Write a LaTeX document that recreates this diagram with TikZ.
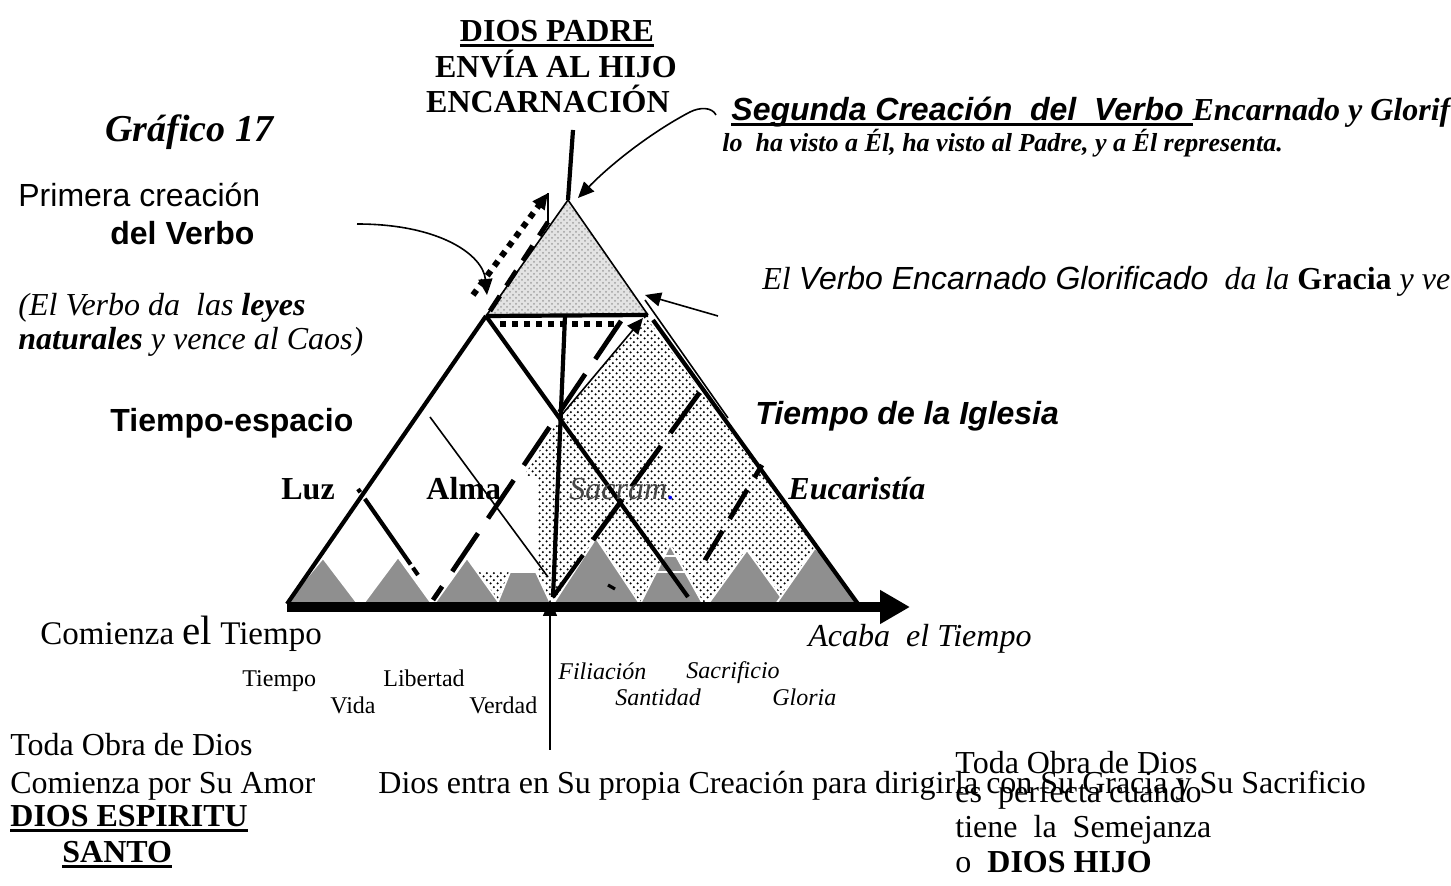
\documentclass[tikz,border=0pt]{standalone}
\usepackage{fontspec}
\setmainfont{Liberation Serif}
\newfontfamily\arialf{Liberation Sans}
\usetikzlibrary{arrows.meta,patterns}
\newcommand{\fsz}[1]{\fontsize{#1}{#1}\selectfont}
\newsavebox{\ulbox}
\newcommand{\ulx}[1]{\sbox{\ulbox}{#1}\rlap{\rule[-2.6pt]{\wd\ulbox}{1.4pt}}\usebox{\ulbox}}
\pgfdeclarepatternformonly{stip}{\pgfpointorigin}{\pgfpoint{3.6pt}{3.6pt}}{\pgfpoint{3.6pt}{3.6pt}}{%
  \pgfpathcircle{\pgfpoint{0.9pt}{0.9pt}}{0.68pt}%
  \pgfpathcircle{\pgfpoint{2.7pt}{2.7pt}}{0.68pt}%
  \pgfusepath{fill}}
\definecolor{mgray}{RGB}{143,143,143}
\definecolor{sacg}{RGB}{70,70,70}
\tikzset{
  tl/.style={line width=2.1pt},
  thinl/.style={line width=0.8pt},
  dashthick/.style={line width=2.4pt, dash pattern=on 23pt off 9pt},
  dotthick/.style={line width=3pt, dash pattern=on 3pt off 3pt},
  mount/.style={fill=mgray, draw=white, line width=0.9pt},
  tip/.style={-{Triangle[length=8pt,width=7pt]}},
  txt/.style={inner sep=0pt, anchor=base west},
  txtc/.style={inner sep=0pt, anchor=base},
}
\begin{document}
\begin{tikzpicture}[x=0.5pt,y=-0.5pt]
\useasboundingbox (0,0) rectangle (1451,886);
\fill[white] (0,0) rectangle (1451,886);
% key points
\coordinate (BL) at (287,604);
\coordinate (BR) at (858,604);
\coordinate (AP) at (568,200);
\coordinate (SL) at (486,316);
\coordinate (SR) at (648,315);
\coordinate (RS) at (653,320);
\coordinate (X) at (560,417);
\coordinate (VB) at (553,597);
\coordinate (VT) at (565,316);
\coordinate (L1e) at (688,597);
\coordinate (D1s) at (433,600);
\coordinate (D1t) at (621,321);
\coordinate (D1e) at (643,318);
% stippled region
\fill[pattern=stip, pattern color=black] (645,316) -- (BR) -- (478,604) -- (478,572) -- (538,572) -- (538,476) -- (524,476) -- (X) -- cycle;
% small top triangle
\fill[gray!22] (AP) -- (SL) -- (SR) -- cycle;
\fill[pattern=crosshatch dots, pattern color=gray!75] (AP) -- (SL) -- (SR) -- cycle;
% mountains
\begin{scope}
\clip (BL) -- (AP) -- (BR) -- cycle;
\fill[mount] (285,604) -- (323,558) -- (358,604) -- cycle;
\fill[mount] (363,604) -- (398,557) -- (432,604) -- cycle;
\fill[mount] (434,604) -- (467,558) -- (500,604) -- cycle;
\fill[mount] (497,604) -- (510,572) -- (536,572) -- (551,604) -- cycle;
\fill[mount] (553,604) -- (596,538) -- (640,604) -- cycle;
\fill[mount] (640,604) -- (670,545) -- (703,604) -- cycle;
\fill[mount] (708,604) -- (747,550) -- (786,604) -- cycle;
\fill[mount] (776,604) -- (815,548) -- (880,604) -- cycle;
\draw[white, line width=1pt] (655,556) -- (686,556);
\draw[white, line width=1pt] (648,572) -- (694,572);
\end{scope}
% big triangle
\draw[tl] (BL) -- (SL);
\draw[tl] (RS) -- (BR);
\draw[thinl] (SL) -- (AP) -- (SR);
\draw[tl] (SL) -- (SR);
\draw[thinl] (645,300) -- (728,418);
% interior lines
\draw[dotthick] (500,324) -- (614,324);
\draw[tl] (SL) -- (L1e);
\draw[tl] (VT) -- (VB);
\draw[tl] (VB) -- (583,555);
\draw[dashthick, dash pattern=on 25pt off 8pt] (593,540) -- (700,392);
\draw[dashthick] (D1t) -- (D1s);
\draw[thinl, tip] (X) -- (D1e);
\draw[dashthick, dash pattern=on 17pt off 7pt] (705,560) -- (762,465);
\draw[tl, dash pattern=on 2pt off 4pt on 40pt off 2pt on 30pt] (358,489) -- (418,575);
\draw[thinl] (430,417) -- (548,577);
\draw[line width=1.6pt] (608,585) -- (615,589);
% upper left dotted arrow
\draw[dotthick, tip] (473,295) -- (548,193);
\draw[thinl] (548,193) -- (548,225);
\draw[dashthick, dash pattern=on 9pt off 6pt] (490,311) -- (548,222);
% top vertical
\draw[tl] (573,130) -- (AP);
% bottom time arrow
\draw[line width=5pt,-{Triangle[length=15pt,width=16pt]}] (287,607) -- (910,607);
% texts
\node[txt] (graf) at (105,142) {\fsz{19}\bfseries\itshape Gráfico 17};
\node[txtc] (dp) at (557,42) {\fsz{16}\bfseries\ulx{DIOS PADRE}};
\node[txtc] (env) at (556,78) {\fsz{16}\bfseries ENVÍA AL HIJO};
\node[txtc] (enc) at (548,113) {\fsz{16}\bfseries ENCARNACIÓN};
\node[txt] (seg) at (731,121) {\fsz{16}{\arialf\bfseries\itshape\ulx{Segunda Creación~~del~~Verbo~}}{\bfseries\itshape Encarnado y Glorif}};
\node[txt] (lo) at (722,152) {\fsz{13}\bfseries\itshape lo~~ha visto a Él, ha visto al Padre, y a Él representa.};
\node[txt] (prim) at (18,207) {\fsz{16}\arialf Primera creación};
\node[txt] (delv) at (110,245) {\fsz{16}\arialf\bfseries del Verbo};
\node[txt] (ley1) at (18,316) {\fsz{16}\itshape (El Verbo da~~las \textbf{leyes}};
\node[txt] (ley2) at (18,350) {\fsz{16}\itshape\textbf{naturales} y vence al Caos)};
\node[txt] (tesp) at (110,432) {\fsz{16}\arialf\bfseries Tiempo-espacio};
\node[txt] (elv) at (762,290) {\fsz{16}\itshape El {\arialf Verbo Encarnado Glorificado}~~da la \textbf{\upshape Gracia} y ve};
\node[txt] (tig) at (755,425) {\fsz{16}\arialf\bfseries\itshape Tiempo de la Iglesia};
\node[txt] (luz) at (281,500) {\fsz{16}\bfseries Luz};
\node[txt] (alma) at (426,500) {\fsz{16}\bfseries Alma};
\node[txt] (sac) at (569,500) {\fsz{16}\itshape\color{sacg}Sacram{\color{blue}.}};
\node[txt] (euc) at (788,500) {\fsz{16}\bfseries\itshape Eucaristía};
\node[txt] (com) at (40,645) {\fsz{16.5}Comienza {\fsz{20.5}el} Tiempo};
\node[txt] (aca) at (808,647) {\fsz{16}\itshape Acaba~~el Tiempo};
\node[txt] (w1) at (242,687) {\fsz{12}Tiempo};
\node[txt] (w2) at (383,687) {\fsz{12}Libertad};
\node[txt] (w3) at (330,714) {\fsz{12}Vida};
\node[txt] (w4) at (469,714) {\fsz{12}Verdad};
\node[txt] (w5) at (558,680) {\fsz{12}\itshape Filiación};
\node[txt] (w6) at (686,679) {\fsz{12}\itshape Sacrificio};
\node[txt] (w7) at (615,706) {\fsz{12}\itshape Santidad};
\node[txt] (w8) at (772,706) {\fsz{12}\itshape Gloria};
\node[txt] (b1) at (10,756) {\fsz{16}Toda Obra de Dios};
\node[txt] (b2) at (10,793) {\fsz{16}Comienza por Su Amor};
\node[txt] (b3) at (10,827) {\fsz{16}\bfseries\ulx{DIOS ESPIRITU}};
\node[txt] (b4) at (62,863) {\fsz{16}\bfseries\ulx{SANTO}};
\node[txt] (die) at (378,793) {\fsz{16}Dios entra en Su propia Creación para dirigirla con Su Gracia y Su Sacrificio};
\node[txt] (r1) at (955,774) {\fsz{16}Toda Obra de Dios};
\node[txt] (r2) at (955,803) {\fsz{16}es~~perfecta cuando};
\node[txt] (r3) at (955,837) {\fsz{16}tiene~~la~~Semejanza};
\node[txt] (r4) at (955,872) {\fsz{16}o~~\textbf{DIOS HIJO}};
% pointer arrows
\coordinate (pa) at (357,224);
\coordinate (pb) at (487,295);
\draw[thinl, tip] (pa) .. controls (440,224) and (483,255) .. (pb);
\coordinate (sa) at (716,115);
\coordinate (sb) at (578,198);
\draw[thinl, tip] (sa) .. controls (712,107) and (700,107) .. (690,112) .. controls (650,133) and (610,165) .. (sb);
\coordinate (ea) at (718,316);
\coordinate (eb) at (645,295);
\draw[thinl, tip] (ea) -- (eb);
\coordinate (da) at (550,750);
\coordinate (db) at (550,600);
\draw[thinl, tip] (da) -- (db);
\end{tikzpicture}
\end{document}
